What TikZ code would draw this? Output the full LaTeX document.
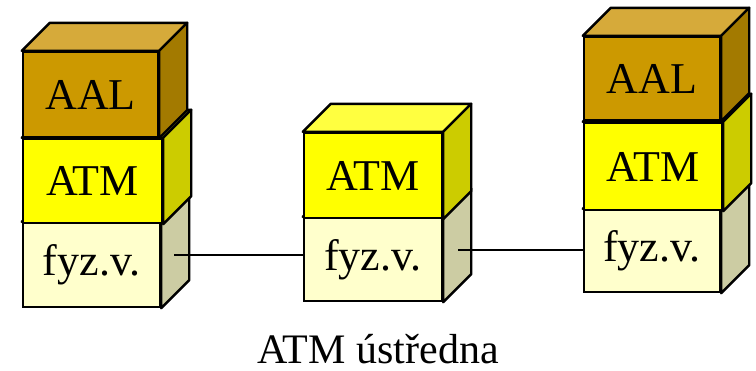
\documentclass[tikz,border=0pt]{standalone}
\usepackage{fontspec}
\setmainfont{Liberation Serif}
\usetikzlibrary{calc}
\definecolor{aalF}{HTML}{CC9900}
\definecolor{aalT}{HTML}{D6AA3A}
\definecolor{aalS}{HTML}{A37A00}
\definecolor{atmF}{HTML}{FFFF00}
\definecolor{atmT}{HTML}{FFFF40}
\definecolor{atmS}{HTML}{CCCC00}
\definecolor{fyzF}{HTML}{FFFFCC}
\definecolor{fyzT}{HTML}{FFFFE0}
\definecolor{fyzS}{HTML}{CCCCA3}
\begin{document}
\begin{tikzpicture}[x=0.5pt,y=-0.5pt,
		celo/.style={draw,line width=1.2pt,inner sep=0pt,font=\fontsize{22}{22}\selectfont},
		hrana/.style={draw,line width=1.2pt,line join=round},
		spoj/.style={line width=1pt}]
				\useasboundingbox (0,0) rectangle (756,370);
				% Kostky vrstev (odspodu nahoru)
				\foreach \jm/\px/\py/\sir/\vys/\vr/\txt in {
					fyzL/91.5/265/137/84/fyz/fyz.v., atmL/92.5/181/139/84/atm/ATM, aalL/90.5/94.5/135/85/aal/AAL,
					fyzM/373/259.5/138/83/fyz/fyz.v., atmM/373/175.5/138/85/atm/ATM,
					fyzR/652/251/136/82/fyz/fyz.v., atmR/653/166.5/138/87/atm/ATM, aalR/652/78.5/136/83/aal/AAL}
				{
				\node[celo,fill=\vr F,minimum width=\sir*0.5pt,minimum height=\vys*0.5pt] (\jm) at (\px,\py) {\txt};
				\filldraw[hrana,fill=\vr T] (\jm.north west) -- ++(14pt,14pt) -- ([shift={(14pt,14pt)}]\jm.north east) -- (\jm.north east) -- cycle;
				\filldraw[hrana,fill=\vr S] (\jm.north east) -- ++(14pt,14pt) -- ([shift={(14pt,14pt)}]\jm.south east) -- (\jm.south east) -- cycle;
				}
				% Spoje mezi fyzickymi vrstvami
				\coordinate (pL) at ($(fyzL.east)+(6.5pt,5pt)$);
				\draw[spoj] (pL) -- (pL -| fyzM.west);
				\coordinate (pM) at ($(fyzM.east)+(7.5pt,5pt)$);
				\draw[spoj] (pM) -- (pM -| fyzR.west);
				% Popis
				\node[font=\fontsize{21}{21}\selectfont,anchor=base] (popis) at (378,363) {ATM ústředna};
		\end{tikzpicture}
\end{document}
